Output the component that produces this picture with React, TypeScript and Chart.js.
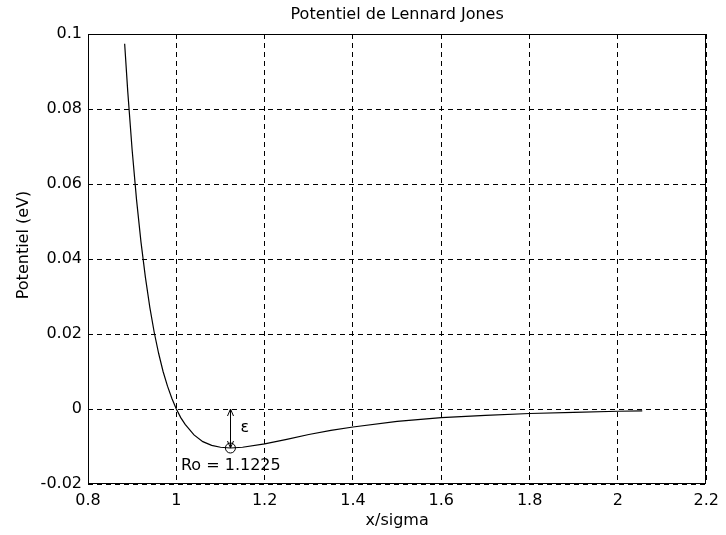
import React, { useEffect, useRef } from 'react';
import { Chart, registerables } from 'chart.js';

Chart.register(...registerables);

// Lennard-Jones potential curve (x/sigma, eV)
const xValues = [
  0.883, 0.89, 0.9, 0.91, 0.92, 0.93, 0.94, 0.95, 0.96, 0.97, 0.98, 0.99, 1.0,
  1.01, 1.02, 1.04, 1.06, 1.08, 1.1, 1.1225, 1.15, 1.2, 1.25, 1.3, 1.35, 1.4,
  1.5, 1.6, 1.7, 1.8, 1.9, 2.0, 2.055,
];
const potentialValues = [
  0.0974, 0.0847, 0.069, 0.0557, 0.0445, 0.0351, 0.0271, 0.0204, 0.0148, 0.01, 0.0061, 0.0028, 0.0,
  -0.0023, -0.0041, -0.0069, -0.0087, -0.0097, -0.0102, -0.0104, -0.0102, -0.0093, -0.0081, -0.0068, -0.0057, -0.0048,
  -0.0033, -0.0023, -0.0017, -0.0012, -0.0009, -0.0006, -0.0005,
];

const xTickValues = [0.8, 1, 1.2, 1.4, 1.6, 1.8, 2, 2.2];
const xTickLabels = ['0.8', '1', '1.2', '1.4', '1.6', '1.8', '2', '2.2'];
const yTickValues = [-0.02, 0, 0.02, 0.04, 0.06, 0.08, 0.1];
const yTickLabels = ['-0.02', '0', '0.02', '0.04', '0.06', '0.08', '0.1'];

const minimumX = [1.1225];
const minimumY = [-0.0104];
const arrowTopY = [0];
const epsilonLabelPos = [1.155, -0.005];
const roLabelPos = [1.0105, -0.0152];

const titleText = 'Potentiel de Lennard Jones';
const xTitleText = 'x/sigma';
const yTitleText = 'Potentiel (eV)';
const epsilonText = 'ε';
const roText = 'Ro = 1.1225';

const FAMILY = "'DejaVu Sans', sans-serif";
const FONT = { family: FAMILY, size: 16, weight: 'normal' as const, lineHeight: 1.2 };

const annotationPlugin = {
  id: 'ljAnnotations',
  afterDatasetsDraw(chart: any) {
    const { ctx, scales } = chart;
    const xs = scales.x;
    const ys = scales.y;
    ctx.save();
    ctx.strokeStyle = '#000';
    ctx.fillStyle = '#000';
    ctx.lineWidth = 1;

    // double arrow (epsilon depth)
    const ax = Math.round(xs.getPixelForValue(minimumX[0])) + 0.5;
    const ayTop = ys.getPixelForValue(arrowTopY[0]);
    const ayBot = ys.getPixelForValue(minimumY[0]);
    ctx.beginPath();
    ctx.moveTo(ax, ayTop);
    ctx.lineTo(ax, ayBot);
    ctx.stroke();
    ctx.beginPath();
    ctx.moveTo(ax - 3, ayTop + 7);
    ctx.lineTo(ax, ayTop);
    ctx.lineTo(ax + 3, ayTop + 7);
    ctx.stroke();
    ctx.beginPath();
    ctx.moveTo(ax - 3, ayBot - 7);
    ctx.lineTo(ax, ayBot);
    ctx.lineTo(ax + 3, ayBot - 7);
    ctx.stroke();

    // labels
    ctx.font = `16px ${FAMILY}`;
    ctx.textBaseline = 'middle';
    ctx.textAlign = 'center';
    ctx.fillText(epsilonText, xs.getPixelForValue(epsilonLabelPos[0]), ys.getPixelForValue(epsilonLabelPos[1]));
    ctx.textAlign = 'left';
    ctx.fillText(roText, xs.getPixelForValue(roLabelPos[0]), ys.getPixelForValue(roLabelPos[1]));
    ctx.restore();
  },
  afterDraw(chart: any) {
    const { ctx, chartArea } = chart;
    ctx.save();
    ctx.strokeStyle = '#000';
    ctx.lineWidth = 1;
    ctx.setLineDash([]);
    const l = Math.round(chartArea.left) + 0.5;
    const t = Math.round(chartArea.top) + 0.5;
    const r = Math.round(chartArea.right) - 0.5;
    const b = Math.round(chartArea.bottom) - 0.5;
    ctx.strokeRect(l, t, r - l, b - t);

    // y-axis title
    ctx.fillStyle = '#000';
    ctx.font = `16px ${FAMILY}`;
    ctx.textAlign = 'center';
    ctx.textBaseline = 'middle';
    ctx.translate(24, (chartArea.top + chartArea.bottom) / 2 - 14);
    ctx.rotate(-Math.PI / 2);
    ctx.fillText(yTitleText, 0, 0);
    ctx.restore();
  },
};

export default function App() {
  const canvasRef = useRef<HTMLCanvasElement | null>(null);

  useEffect(() => {
    const canvas = canvasRef.current;
    if (!canvas) return;
    const curve = xValues.map((x, i) => ({ x, y: potentialValues[i] }));
    const minimum = minimumX.map((x, i) => ({ x, y: minimumY[i] }));

    const chart = new Chart(canvas, {
      type: 'line',
      data: {
        datasets: [
          {
            data: curve,
            borderColor: '#000',
            borderWidth: 1.2,
            pointRadius: 0,
            fill: false,
            tension: 0,
          },
          {
            data: minimum,
            showLine: false,
            pointStyle: 'circle',
            pointRadius: 5,
            pointBorderWidth: 1,
            pointBorderColor: '#000',
            pointBackgroundColor: 'rgba(0,0,0,0)',
          },
        ],
      },
      options: {
        responsive: false,
        animation: false,
        layout: { padding: { left: 0, right: 15, top: 0, bottom: 0 } },
        plugins: {
          legend: { display: false },
          tooltip: { enabled: false },
          title: {
            display: true,
            fullSize: false,
            text: titleText,
            color: '#000',
            font: FONT,
            padding: { top: 5, bottom: 9.8 },
          },
        },
        scales: {
          x: {
            type: 'linear',
            min: 0.8,
            max: 2.2,
            afterBuildTicks: (s: any) => {
              s.ticks = xTickValues.map((v) => ({ value: v }));
            },
            afterFit: (s: any) => {
              s.height = 51;
            },
            ticks: {
              color: '#000',
              font: FONT,
              padding: 7,
              maxRotation: 0,
              autoSkip: false,
              callback: (_v: any, i: number) => xTickLabels[i],
            },
            grid: { color: '#000', lineWidth: 1, drawTicks: false },
            border: { display: false, dash: [5, 4] },
            title: {
              display: true,
              text: xTitleText,
              color: '#000',
              font: FONT,
              padding: { top: 0, bottom: 5 },
            },
          },
          y: {
            type: 'linear',
            min: -0.02,
            max: 0.1,
            afterBuildTicks: (s: any) => {
              s.ticks = yTickValues.map((v) => ({ value: v }));
            },
            afterFit: (s: any) => {
              s.width = 88;
            },
            ticks: {
              color: '#000',
              font: FONT,
              padding: 6,
              autoSkip: false,
              callback: (_v: any, i: number) => yTickLabels[i],
            },
            grid: { color: '#000', lineWidth: 1, drawTicks: false },
            border: { display: false, dash: [5, 4] },
          },
        },
      },
      plugins: [annotationPlugin],
    });

    return () => chart.destroy();
  }, []);

  return (
    <div style={{ position: 'absolute', left: 0, top: 0, width: 726, height: 535, background: '#fff' }}>
      <canvas ref={canvasRef} width={726} height={535} style={{ display: 'block' }} />
    </div>
  );
}
